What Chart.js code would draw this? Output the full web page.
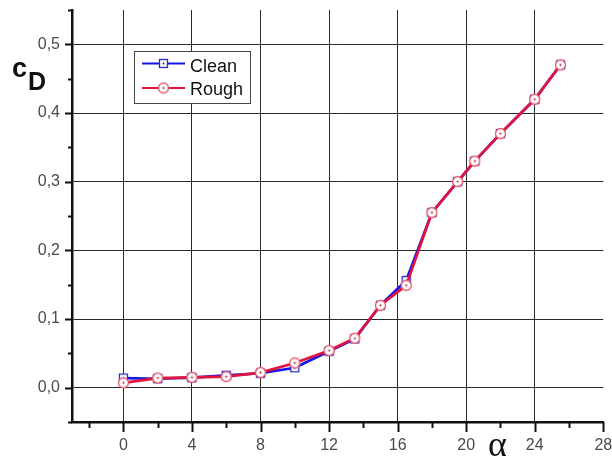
<!DOCTYPE html>
<html>
<head>
<meta charset="utf-8">
<script src="https://cdn.jsdelivr.net/npm/chart.js@4/dist/chart.umd.min.js"></script>
<style>
html,body{margin:0;padding:0;background:#fff;}
#wrap{width:612px;height:457px;position:relative;}
</style>
</head>
<body>
<div id="wrap"><canvas id="c" width="612" height="457"></canvas></div>
<script>
// Data
const alpha   = [0, 2, 4, 6, 8, 10, 12, 13.5, 15, 16.5, 18, 19.5, 20.5, 22, 24, 25.5];
const cleanCD = [0.014, 0.013, 0.0145, 0.018, 0.021, 0.029, 0.053, 0.071, 0.12, 0.156, 0.255, 0.30, 0.33, 0.37, 0.42, 0.47];
const roughCD = [0.007, 0.014, 0.015, 0.016, 0.022, 0.036, 0.054, 0.072, 0.12, 0.149, 0.255, 0.30, 0.33, 0.37, 0.42, 0.47];
const xTickValues = [0, 4, 8, 12, 16, 20, 24, 28];
const yTickValues = [0, 0.1, 0.2, 0.3, 0.4, 0.5];
const seriesNames = ['Clean', 'Rough'];

const BLUE = '#1414e6';
const RED = '#e0143c';

function makeSquare() {
  const c = document.createElement('canvas');
  c.width = 11; c.height = 11;
  const g = c.getContext('2d');
  g.fillStyle = '#fff';
  g.fillRect(1.5, 1.5, 8, 8);
  g.lineWidth = 1.3;
  g.strokeStyle = '#2828c8';
  g.strokeRect(1.5, 1.5, 8, 8);
  g.beginPath(); g.arc(5.5, 5.5, 0.9, 0, 2 * Math.PI);
  g.fillStyle = '#202060'; g.fill();
  return c;
}
function makeCircle() {
  const c = document.createElement('canvas');
  c.width = 13; c.height = 13;
  const g = c.getContext('2d');
  g.beginPath(); g.arc(6.5, 6.5, 5, 0, 2 * Math.PI);
  g.fillStyle = '#fff'; g.fill();
  g.lineWidth = 1.3; g.strokeStyle = '#e8586a'; g.stroke();
  g.beginPath(); g.arc(6.5, 6.5, 1, 0, 2 * Math.PI);
  g.fillStyle = '#b01030'; g.fill();
  return c;
}
const sq = makeSquare();
const ci = makeCircle();

const fmt = v => v.toFixed(1).replace('.', ',');

const extras = {
  id: 'extras',
  afterDraw(chart) {
    const ctx = chart.ctx;
    const xs = chart.scales.x, ys = chart.scales.y;
    const a = chart.chartArea;
    ctx.save();
    ctx.strokeStyle = '#111';
    ctx.lineWidth = 2;
    // x ticks (major + minor)
    for (let v = -2; v <= 28; v += 2) {
      const px = Math.round(xs.getPixelForValue(v)) + 0.5;
      const len = (v % 4 === 0) ? 10 : 6;
      ctx.beginPath(); ctx.moveTo(px, a.bottom); ctx.lineTo(px, a.bottom + len); ctx.stroke();
    }
    // y ticks (major + minor)
    for (let k = -1; k <= 11; k++) {
      const v = k * 0.05;
      const py = Math.round(ys.getPixelForValue(v)) + 0.5;
      const len = (k % 2 === 0) ? 7 : 4;
      ctx.beginPath(); ctx.moveTo(a.left - len, py); ctx.lineTo(a.left, py); ctx.stroke();
    }
    // legend
    const bx = 134.5, by = 51.5, bw = 116, bh = 52;
    ctx.fillStyle = '#fff';
    ctx.fillRect(bx, by, bw, bh);
    ctx.lineWidth = 1;
    ctx.strokeStyle = '#444';
    ctx.strokeRect(bx, by, bw, bh);
    const rows = [
      {name: seriesNames[0], color: BLUE, img: sq, y: 63.5, base: 72},
      {name: seriesNames[1], color: RED, img: ci, y: 88, base: 95}
    ];
    ctx.font = '18px "Liberation Sans", Arial, sans-serif';
    ctx.textBaseline = 'alphabetic';
    ctx.textAlign = 'left';
    rows.forEach(r => {
      ctx.strokeStyle = r.color; ctx.lineWidth = 2;
      ctx.beginPath(); ctx.moveTo(142, r.y); ctx.lineTo(185, r.y); ctx.stroke();
      ctx.drawImage(r.img, 163.5 - r.img.width / 2, r.y - r.img.height / 2);
      ctx.fillStyle = '#111';
      ctx.fillText(r.name, 190, r.base);
    });
    // axis titles
    ctx.fillStyle = '#111';
    ctx.font = 'bold 27px "Liberation Sans", Arial, sans-serif';
    ctx.fillText('c', 12, 77);
    ctx.font = 'bold 25px "Liberation Sans", Arial, sans-serif';
    ctx.fillText('D', 28, 90);
    ctx.font = '36px "Liberation Serif", "Times New Roman", serif';
    ctx.fillText('α', 488, 456);
    ctx.restore();
  }
};

function noPad(s) {
  s.paddingTop = 0; s.paddingBottom = 0; s.paddingLeft = 0; s.paddingRight = 0;
}

new Chart(document.getElementById('c'), {
  type: 'line',
  data: {
    datasets: [
      {
        label: seriesNames[0],
        data: alpha.map((x, i) => ({x: x, y: cleanCD[i]})),
        borderColor: BLUE,
        borderWidth: 2.7,
        pointStyle: sq,
        pointRadius: 5,
        tension: 0,
        order: 2
      },
      {
        label: seriesNames[1],
        data: alpha.map((x, i) => ({x: x, y: roughCD[i]})),
        borderColor: RED,
        borderWidth: 2.7,
        pointStyle: ci,
        pointRadius: 6,
        tension: 0,
        order: 1
      }
    ]
  },
  options: {
    responsive: false,
    animation: false,
    devicePixelRatio: 1,
    layout: {padding: {top: 10, right: 8, left: 0, bottom: 0}},
    plugins: {legend: {display: false}, tooltip: {enabled: false}},
    scales: {
      x: {
        type: 'linear',
        min: -3, max: 28,
        afterBuildTicks: s => { s.ticks = xTickValues.map(v => ({value: v})); },
        afterFit: s => { s.height = 35; noPad(s); },
        grid: {
          drawTicks: false,
          color: c => (c.tick && c.tick.value === 28) ? 'rgba(0,0,0,0)' : '#2a2a2a',
          lineWidth: 1
        },
        border: {display: true, color: '#111', width: 2.5},
        ticks: {
          padding: 14,
          color: '#4a4a4a',
          font: {family: '"Liberation Sans", Arial, sans-serif', size: 16},
          callback: v => String(v),
          maxRotation: 0
        }
      },
      y: {
        type: 'linear',
        min: -0.05, max: 0.55,
        afterBuildTicks: s => { s.ticks = yTickValues.map(v => ({value: v})); },
        afterFit: s => { s.width = 72; noPad(s); },
        grid: {drawTicks: false, color: '#2a2a2a', lineWidth: 1},
        border: {display: true, color: '#111', width: 2.5},
        ticks: {
          padding: 12,
          color: '#4a4a4a',
          font: {family: '"Liberation Sans", Arial, sans-serif', size: 16},
          callback: v => fmt(v)
        }
      }
    }
  },
  plugins: [extras]
});
</script>
</body>
</html>
